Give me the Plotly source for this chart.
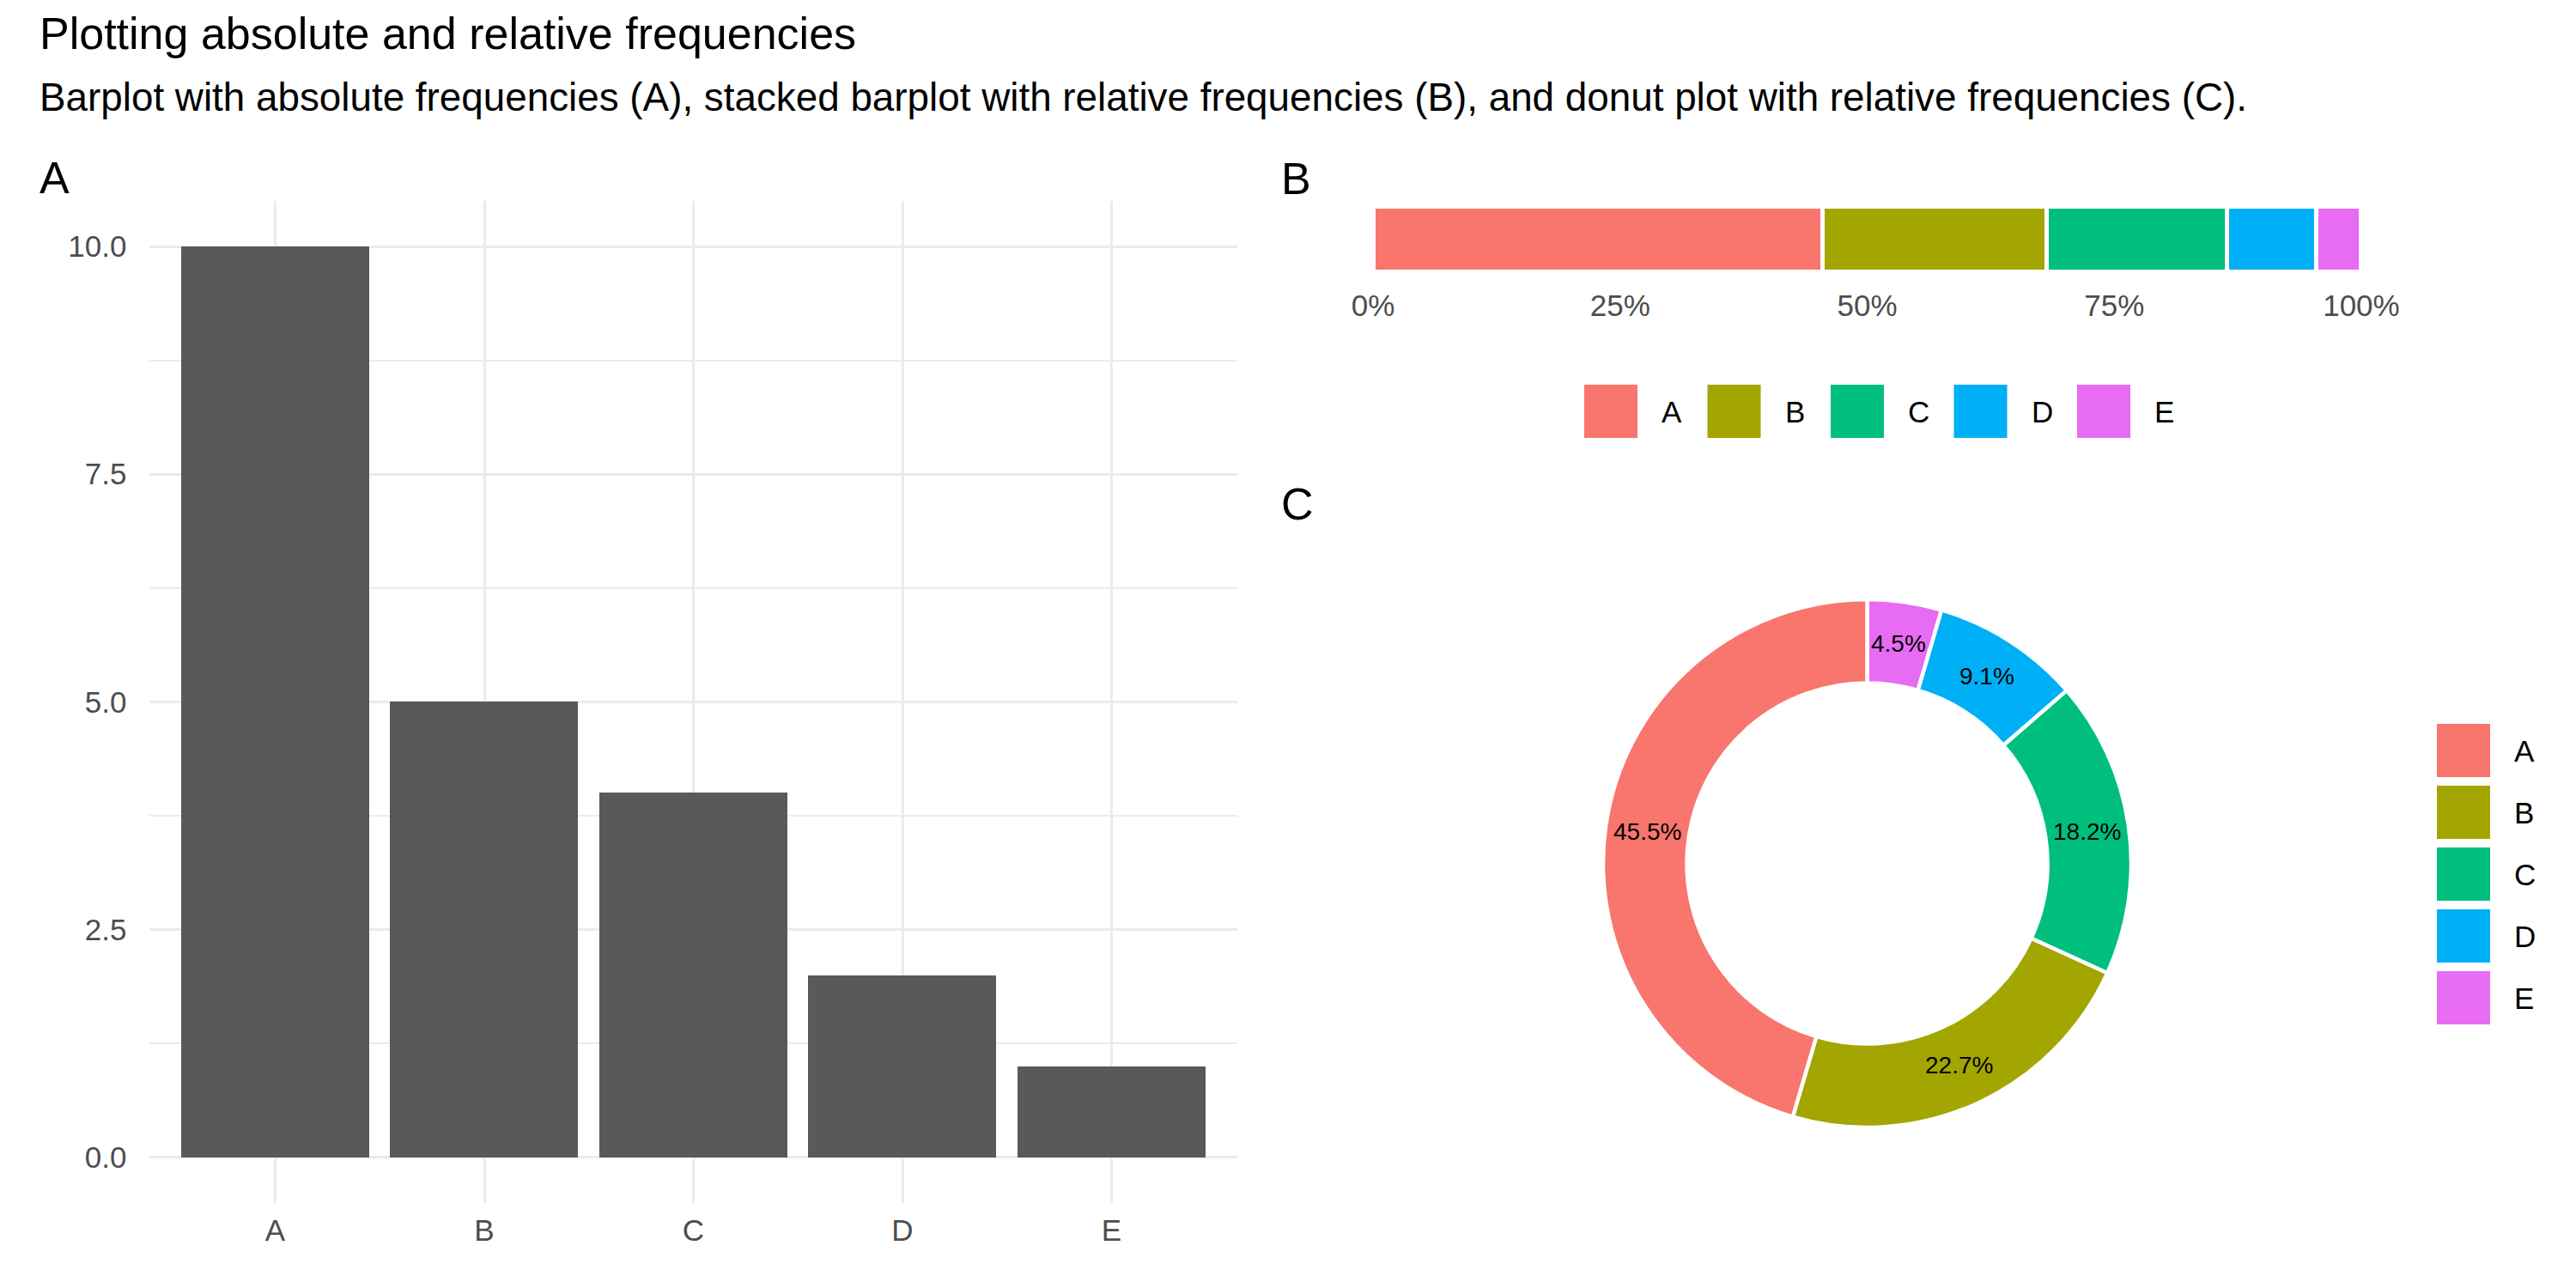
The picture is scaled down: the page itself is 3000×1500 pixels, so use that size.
import math
import plotly.graph_objects as go

# ---------------- data ----------------
categories = ["A", "B", "C", "D", "E"]
counts = [10, 5, 4, 2, 1]
palette = ["#F8766D", "#A3A500", "#00BF7D", "#00B0F6", "#E76BF3"]
y_tick_vals = [0, 2.5, 5, 7.5, 10]
pct_tick_vals = [0, 0.25, 0.5, 0.75, 1.0]
pct_tick_text = ["0%", "25%", "50%", "75%", "100%"]

title_text = "Plotting absolute and relative frequencies"
subtitle_text = ("Barplot with absolute frequencies (A), stacked barplot with relative "
                 "frequencies (B), and donut plot with relative frequencies (C).")

W, H = 3000, 1500
FONT = "Liberation Sans, Arial, sans-serif"
GRID = "#EBEBEB"
TICK = "#4D4D4D"

total = sum(counts)
shares = [c / total for c in counts]


def px(x):
    return x / W


def py(y):
    return 1 - y / H


fig = go.Figure()

# ---------------- panel A: absolute barplot ----------------
fig.add_trace(go.Bar(x=categories, y=counts, marker=dict(color="#595959", line=dict(width=0)),
                     width=0.9, showlegend=False, xaxis="x", yaxis="y"))

# ---------------- panel B: stacked relative barplot ----------------
for cat, s, col in zip(categories, shares, palette):
    fig.add_trace(go.Bar(x=[s], y=[1], orientation="h", width=0.9, name=cat,
                         marker=dict(color=col, line=dict(color="white", width=4.5)),
                         showlegend=False, xaxis="x2", yaxis="y2"))

# ---------------- panel C: donut ----------------
# slices run counter-clockwise from 12 o'clock in order A..E  (== clockwise E..A)
cx, cy, R = 2174.5, 1005.5, 307.5
hole = 0.683
fig.add_trace(go.Pie(labels=categories[::-1], values=counts[::-1], sort=False,
                     direction="clockwise", rotation=0, hole=hole, textinfo="none",
                     hoverinfo="label+percent",
                     marker=dict(colors=palette[::-1], line=dict(color="white", width=4.5)),
                     domain=dict(x=[px(cx - R), px(cx + R)], y=[py(cy + R), py(cy - R)]),
                     showlegend=False))

annotations = []
# donut labels at mid ring
rmid = R * (1 + hole) / 2
cum = 0.0
for s in shares:
    phi = (cum + s / 2) * 2 * math.pi
    lx = cx - rmid * math.sin(phi)
    ly = cy - rmid * math.cos(phi)
    annotations.append(dict(x=px(lx), y=py(ly), xref="paper", yref="paper", showarrow=False,
                            text=f"{s * 100:.1f}%", font=dict(family=FONT, size=28, color="black"),
                            xanchor="center", yanchor="middle"))
    cum += s

# titles and tags
annotations.append(dict(x=px(44), y=py(39), xref="paper", yref="paper", showarrow=False,
                        text=title_text, font=dict(family=FONT, size=52, color="black"),
                        xanchor="left", yanchor="middle"))
annotations.append(dict(x=px(44), y=py(114), xref="paper", yref="paper", showarrow=False,
                        text=subtitle_text, font=dict(family=FONT, size=45.8, color="black"),
                        xanchor="left", yanchor="middle"))
for tag, tx, ty in [("A", 44, 207), ("B", 1490, 208), ("C", 1490, 587)]:
    annotations.append(dict(x=px(tx), y=py(ty), xref="paper", yref="paper", showarrow=False,
                            text=tag, font=dict(family=FONT, size=52, color="black"),
                            xanchor="left", yanchor="middle"))

# legends (drawn as keys + labels)
shapes = []
key = 62
# horizontal legend under panel B
for i, (cat, col) in enumerate(zip(categories, palette)):
    kx = 1845 + i * 143.5
    ky = 448
    shapes.append(dict(type="rect", xref="paper", yref="paper", x0=px(kx), x1=px(kx + key),
                       y0=py(ky + key), y1=py(ky), fillcolor=col, line=dict(width=0)))
    annotations.append(dict(x=px(kx + key + 26), y=py(ky + key / 2), xref="paper", yref="paper",
                            showarrow=False, text=cat, font=dict(family=FONT, size=35, color="black"),
                            xanchor="left", yanchor="middle"))
# vertical legend right of donut
for i, (cat, col) in enumerate(zip(categories, palette)):
    kx = 2838
    ky = 843 + i * 72
    shapes.append(dict(type="rect", xref="paper", yref="paper", x0=px(kx), x1=px(kx + key),
                       y0=py(ky + key), y1=py(ky), fillcolor=col, line=dict(width=0)))
    annotations.append(dict(x=px(kx + key + 26), y=py(ky + key / 2), xref="paper", yref="paper",
                            showarrow=False, text=cat, font=dict(family=FONT, size=35, color="black"),
                            xanchor="left", yanchor="middle"))

fig.update_layout(
    width=W, height=H,
    margin=dict(l=0, r=0, t=0, b=0),
    paper_bgcolor="white", plot_bgcolor="white",
    barmode="stack", bargap=0,
    font=dict(family=FONT, color=TICK),
    annotations=annotations,
    shapes=shapes,
    xaxis=dict(domain=[px(174.4), px(1440.6)], type="category", range=[-0.6, 4.6],
               showgrid=True, gridcolor=GRID, gridwidth=3, showline=False, zeroline=False,
               ticks="", tickfont=dict(size=35, color=TICK), ticklabelstandoff=8),
    yaxis=dict(domain=[py(1400.8), py(234)], range=[-0.5, 10.5], tickvals=y_tick_vals,
               tickformat=".1f", showgrid=True, gridcolor=GRID, gridwidth=3,
               minor=dict(dtick=1.25, tick0=0, showgrid=True, gridcolor=GRID, gridwidth=1.6),
               zeroline=False, showline=False, ticks="", tickfont=dict(size=35, color=TICK),
               ticklabelstandoff=26),
    xaxis2=dict(domain=[px(1541.5), px(2807.5)], range=[-0.05, 1.05], anchor="y2",
                tickvals=pct_tick_vals, ticktext=pct_tick_text, showgrid=False, zeroline=False,
                showline=False, ticks="", tickfont=dict(size=35, color=TICK), ticklabelstandoff=4),
    yaxis2=dict(domain=[py(328), py(228)], range=[0.4, 1.6], anchor="x2", visible=False),
)

fig.write_html("out.html", config={"displayModeBar": False},
               post_script="document.body.style.margin='0';")
